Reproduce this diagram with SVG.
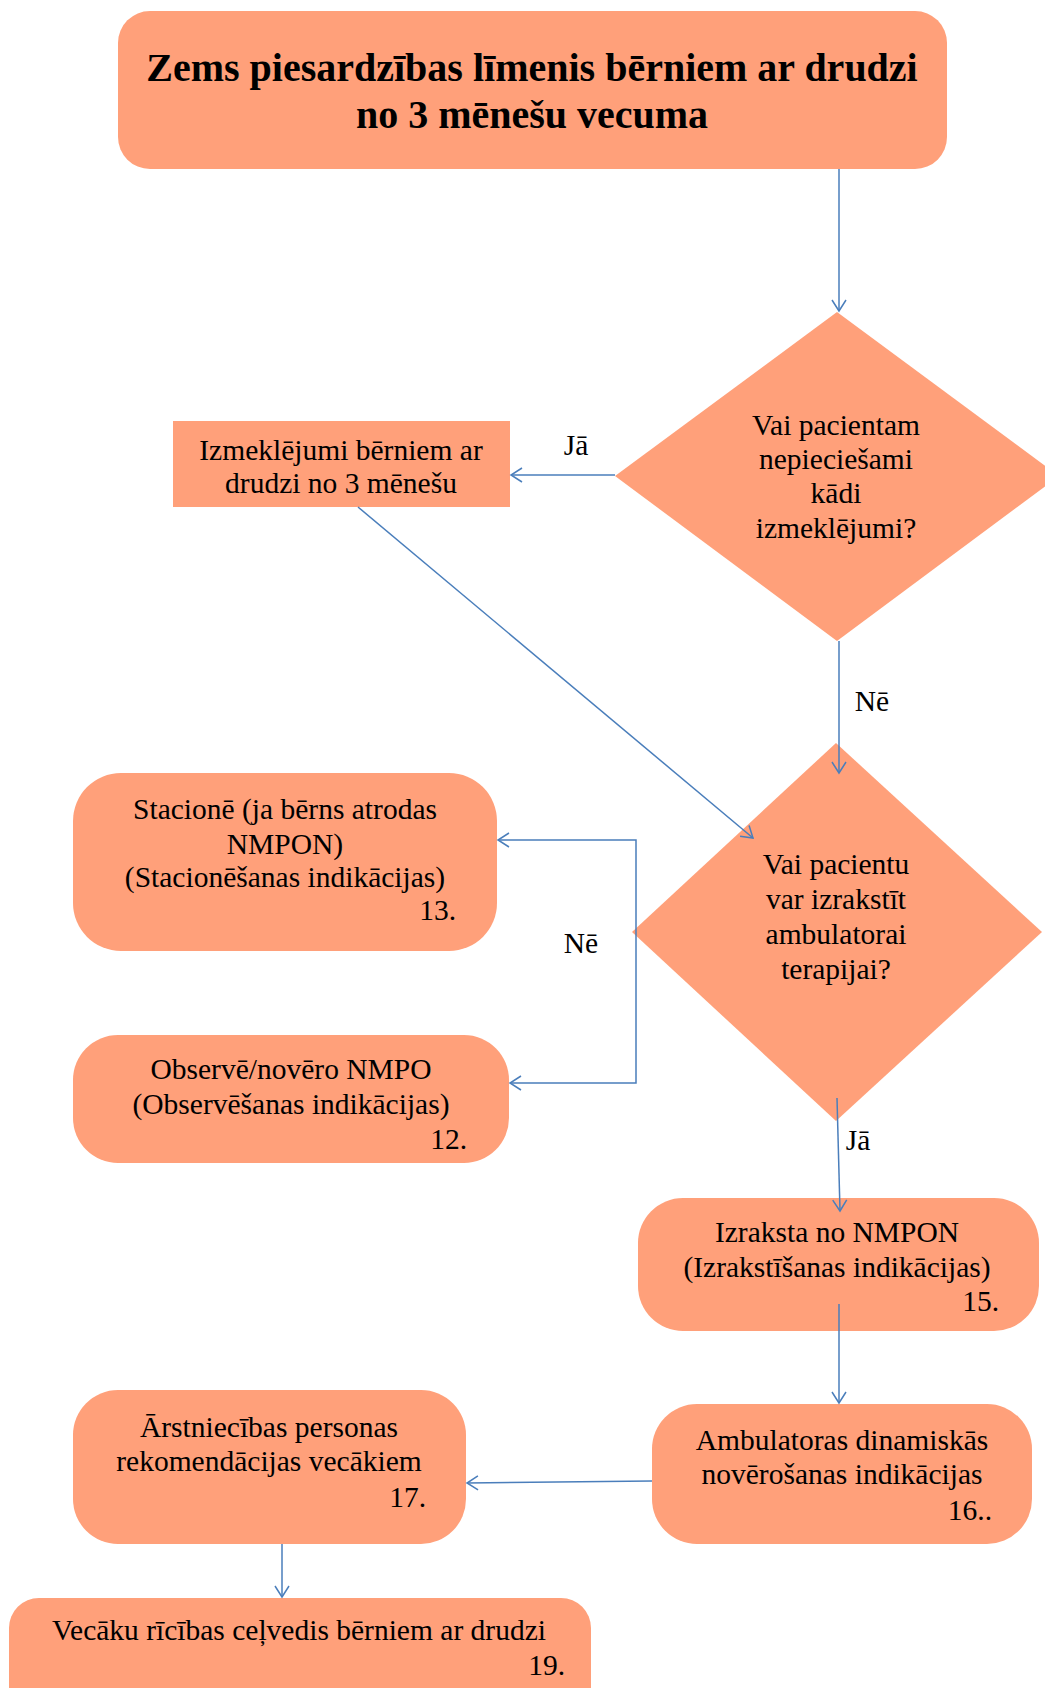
<svg xmlns="http://www.w3.org/2000/svg" width="1045" height="1688" viewBox="0 0 1045 1688">
<style>
.n{fill:#FFA07A;stroke:none}
.t{font-family:"Liberation Serif","Times New Roman",serif;font-size:29.5px;fill:#000}
.c{text-anchor:middle}
.r{text-anchor:end}
.h{font-family:"Liberation Serif","Times New Roman",serif;font-size:40px;font-weight:bold;fill:#000;text-anchor:middle}
.e{fill:none;stroke:#4A7EBB;stroke-width:1.5}
</style>
<defs>
<marker id="a" markerUnits="userSpaceOnUse" markerWidth="14" markerHeight="16" refX="12" refY="8" orient="auto">
<path d="M1,1 L12,8 L1,15" fill="none" stroke="#4A7EBB" stroke-width="1.5"/>
</marker>
</defs>
<rect width="1045" height="1688" fill="#fff"/>
<g id="title">
<rect class="n" x="118" y="11" width="829" height="158" rx="32"/>
<text class="h" x="532" y="81">Zems piesardzības līmenis bērniem ar drudzi</text>
<text class="h" x="532" y="128">no 3 mēnešu vecuma</text>
</g>
<g id="d1">
<polygon class="n" points="837,312 1059,476 837,641 615,476"/>
<text class="t c" x="836" y="435">Vai pacientam</text>
<text class="t c" x="836" y="469">nepieciešami</text>
<text class="t c" x="836" y="503">kādi</text>
<text class="t c" x="836" y="538">izmeklējumi?</text>
</g>
<g id="izmeklejumi">
<rect class="n" x="173" y="421" width="337" height="86"/>
<text class="t c" x="341" y="460">Izmeklējumi bērniem ar</text>
<text class="t c" x="341" y="493">drudzi no 3 mēnešu</text>
</g>
<g id="d2">
<polygon class="n" points="836,743 1042,932 836,1121 632,932"/>
<text class="t c" x="836" y="874">Vai pacientu</text>
<text class="t c" x="836" y="909">var izrakstīt</text>
<text class="t c" x="836" y="944">ambulatorai</text>
<text class="t c" x="836" y="979">terapijai?</text>
</g>
<g id="stacione">
<rect class="n" x="73" y="773" width="424" height="178" rx="48"/>
<text class="t c" x="285" y="819">Stacionē (ja bērns atrodas</text>
<text class="t c" x="285" y="854">NMPON)</text>
<text class="t c" x="285" y="887">(Stacionēšanas indikācijas)</text>
<text class="t r" x="456" y="920">13.</text>
</g>
<g id="observe">
<rect class="n" x="73" y="1035" width="436" height="128" rx="45"/>
<text class="t c" x="291" y="1079">Observē/novēro NMPO</text>
<text class="t c" x="291" y="1114">(Observēšanas indikācijas)</text>
<text class="t r" x="467" y="1149">12.</text>
</g>
<g id="izraksta">
<rect class="n" x="638" y="1198" width="401" height="133" rx="45"/>
<text class="t c" x="837" y="1242">Izraksta no NMPON</text>
<text class="t c" x="837" y="1277">(Izrakstīšanas indikācijas)</text>
<text class="t r" x="999" y="1311">15.</text>
</g>
<g id="ambulatoras">
<rect class="n" x="652" y="1404" width="380" height="140" rx="45"/>
<text class="t c" x="842" y="1450">Ambulatoras dinamiskās</text>
<text class="t c" x="842" y="1484">novērošanas indikācijas</text>
<text class="t r" x="992" y="1520">16..</text>
</g>
<g id="arstniecibas">
<rect class="n" x="73" y="1390" width="393" height="154" rx="45"/>
<text class="t c" x="269" y="1437">Ārstniecības personas</text>
<text class="t c" x="269" y="1471">rekomendācijas vecākiem</text>
<text class="t r" x="426" y="1507">17.</text>
</g>
<g id="vecaku">
<rect class="n" x="9" y="1598" width="582" height="130" rx="30"/>
<text class="t c" x="299" y="1640">Vecāku rīcības ceļvedis bērniem ar drudzi</text>
<text class="t r" x="565" y="1675">19.</text>
</g>
<g id="connectors">
<path class="e" d="M839,169 V311" marker-end="url(#a)"/>
<path class="e" d="M615,475 H511" marker-end="url(#a)"/>
<path class="e" d="M358,507 L753,838" marker-end="url(#a)"/>
<path class="e" d="M839,641 V773" marker-end="url(#a)"/>
<path class="e" d="M636,932 V840 H498" marker-end="url(#a)"/>
<path class="e" d="M636,932 V1083 H510" marker-end="url(#a)"/>
<path class="e" d="M837,1098 L840,1211" marker-end="url(#a)"/>
<path class="e" d="M839,1304 V1403" marker-end="url(#a)"/>
<path class="e" d="M652,1481 L467,1483" marker-end="url(#a)"/>
<path class="e" d="M282,1544 V1597" marker-end="url(#a)"/>
<text class="t c" x="576" y="455">Jā</text>
<text class="t c" x="872" y="711">Nē</text>
<text class="t c" x="581" y="953">Nē</text>
<text class="t c" x="858" y="1150">Jā</text>
</g>
</svg>
